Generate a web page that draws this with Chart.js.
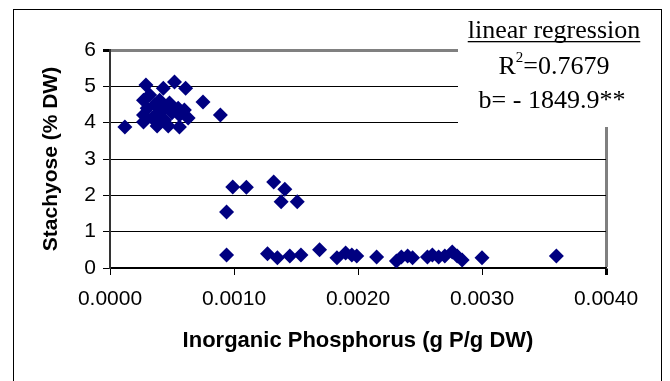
<!DOCTYPE html>
<html>
<head>
<meta charset="utf-8">
<script src="https://cdn.jsdelivr.net/npm/chart.js@4"></script>
<style>
  html, body { margin: 0; padding: 0; background: #fff; }
  #wrap { width: 670px; height: 381px; }
</style>
</head>
<body>
<div id="wrap"><canvas id="chart" width="670" height="381"></canvas></div>
<script>
// Inorganic phosphorus (g P/g DW) and stachyose (% DW), one entry per sample
const phosphorus = [
    0.00012, 0.00029, 0.00043, 0.00052, 0.00061, 0.00075, 0.00089,
    0.00027, 0.00030, 0.00027, 0.00032, 0.00036, 0.00039, 0.00040,
    0.00044, 0.00048, 0.00050, 0.00055, 0.00056, 0.00060, 0.00063,
    0.00027, 0.00038, 0.00044, 0.00056, 0.00034, 0.00047,
    0.00094, 0.00099, 0.00110, 0.00132, 0.00141, 0.00138, 0.00151,
    0.00094, 0.00127, 0.00135, 0.00145, 0.00154, 0.00169, 0.00183,
    0.00190, 0.00195, 0.00199, 0.00215, 0.00231, 0.00235, 0.00240,
    0.00244, 0.00256, 0.00260, 0.00265, 0.00270, 0.00276, 0.00280,
    0.00284, 0.00300, 0.00360
];
const stachyose = [
    3.88, 5.04, 4.95, 5.12, 4.95, 4.57, 4.21,
    4.62, 4.40, 4.21, 4.76, 4.49, 4.29, 4.62,
    4.40, 4.54, 4.27, 4.40, 4.21, 4.35, 4.13,
    4.02, 3.91, 4.07, 3.88, 4.13, 3.91,
    1.54, 2.23, 2.22, 2.37, 2.17, 1.82, 1.82,
    0.36, 0.39, 0.28, 0.33, 0.36, 0.50, 0.28,
    0.41, 0.36, 0.33, 0.30, 0.19, 0.30, 0.33,
    0.28, 0.30, 0.36, 0.30, 0.33, 0.44, 0.33,
    0.22, 0.28, 0.33
];
const xTicks = [0, 0.001, 0.002, 0.003, 0.004];
const yTicks = [0, 1, 2, 3, 4, 5, 6];
const regressionText = ['linear regression', 'R', '=0.7679', 'b= - 1849.9**'];

const points = phosphorus.map((p, i) => ({ x: p, y: stachyose[i] }));

const serif = '"Liberation Serif", "Times New Roman", serif';

// white background, outer frame and the regression text box
const frame = {
    id: 'frame',
    beforeDraw(chart) {
        const ctx = chart.ctx;
        ctx.save();
        ctx.fillStyle = '#fff';
        ctx.fillRect(0, 0, chart.width, chart.height);
        ctx.strokeStyle = '#000';
        ctx.lineWidth = 1;
        ctx.strokeRect(13.5, 9.5, 648, 390);
        ctx.restore();
    },
    afterDraw(chart) {
        const ctx = chart.ctx;
        ctx.save();
        ctx.fillStyle = '#fff';
        ctx.fillRect(458, 10, 198, 117);
        ctx.fillStyle = '#000';
        ctx.textBaseline = 'alphabetic';
        const cx = 554;
        ctx.font = '26px ' + serif;
        ctx.textAlign = 'center';
        ctx.fillText(regressionText[0], cx, 38);
        const w = ctx.measureText(regressionText[0]).width;
        ctx.fillRect(cx - w / 2, 41, w, 1.3);
        // R^2 line with superscript
        const rW = ctx.measureText(regressionText[1]).width;
        const restW = ctx.measureText(regressionText[2]).width;
        ctx.font = '15px ' + serif;
        const sW = ctx.measureText('2').width;
        const x0 = cx - (rW + sW + restW) / 2;
        ctx.textAlign = 'left';
        ctx.fillText('2', x0 + rW, 62);
        ctx.font = '26px ' + serif;
        ctx.fillText(regressionText[1], x0, 74);
        ctx.fillText(regressionText[2], x0 + rW + sW, 74);
        ctx.textAlign = 'center';
        ctx.fillText(regressionText[3], cx - 2, 108);
        ctx.restore();
    }
};

new Chart(document.getElementById('chart').getContext('2d'), {
    type: 'scatter',
    data: {
        datasets: [
            {
                data: points,
                pointStyle: 'rectRot',
                radius: 7.5,
                hoverRadius: 7.5,
                backgroundColor: '#000080',
                borderColor: '#000080',
                borderWidth: 0,
            },
        ],
    },
    options: {
        responsive: false,
        animation: false,
        layout: { padding: { top: 50, right: 64, left: 0, bottom: 0 } },
        plugins: {
            legend: { display: false },
            tooltip: { enabled: false },
        },
        scales: {
            x: {
                type: 'linear',
                min: 0,
                max: 0.004,
                afterFit: (scale) => { scale.height = 113; },
                afterBuildTicks: (scale) => { scale.ticks = xTicks.map(v => ({ value: v })); },
                ticks: {
                    color: '#000',
                    padding: 12,
                    maxRotation: 0,
                    font: { family: 'Liberation Sans', size: 21 },
                    callback: (v) => Number(v).toFixed(4),
                },
                grid: {
                    color: (c) => (c.tick && c.tick.value === 0.004 ? '#808080' : 'rgba(0,0,0,0)'),
                    lineWidth: (c) => (c.tick && c.tick.value === 0.004 ? 3 : 1),
                    tickColor: '#000',
                    tickLength: 7,
                },
                border: { color: '#000', width: 1.5 },
                title: {
                    display: true,
                    text: 'Inorganic Phosphorus (g P/g DW)',
                    color: '#000',
                    font: { family: 'Liberation Sans', size: 22, weight: 'bold' },
                    padding: { top: 0, bottom: 27 },
                },
            },
            y: {
                min: 0,
                max: 6,
                afterFit: (scale) => { scale.width = 110; },
                afterBuildTicks: (scale) => { scale.ticks = yTicks.map(v => ({ value: v })); },
                ticks: {
                    color: '#000',
                    padding: 7,
                    font: { family: 'Liberation Sans', size: 21 },
                },
                grid: {
                    color: (c) => (c.tick && c.tick.value === 6 ? '#808080' : '#000'),
                    lineWidth: (c) => (c.tick && c.tick.value === 6 ? 3 : 1),
                    tickColor: '#000',
                    tickLength: 7,
                },
                border: { color: '#333', width: 2 },
                title: {
                    display: true,
                    text: 'Stachyose (% DW)',
                    color: '#000',
                    font: { family: 'Liberation Sans', size: 21, weight: 'bold' },
                    padding: { top: 39, bottom: 0 },
                },
            },
        },
    },
    plugins: [frame],
});
</script>
</body>
</html>
